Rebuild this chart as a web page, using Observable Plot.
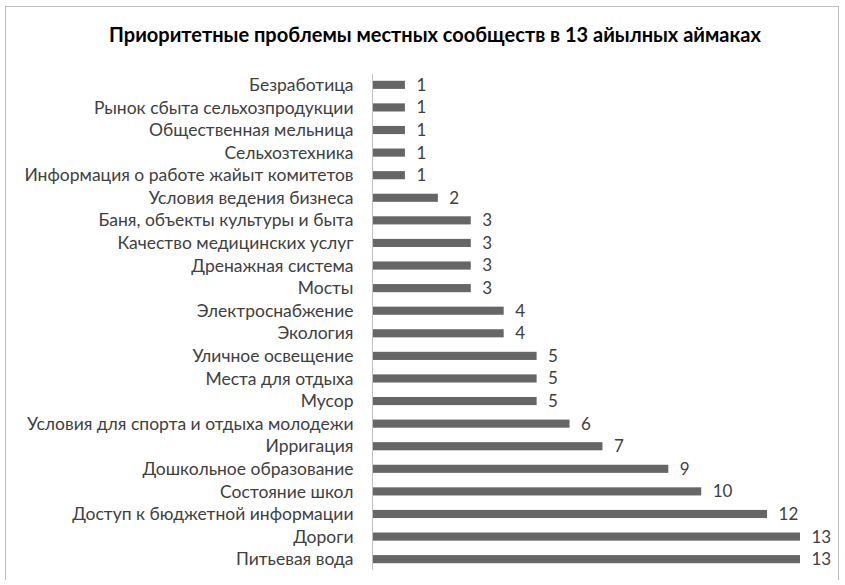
<!DOCTYPE html>
<html>
<head>
<meta charset="utf-8">
<script src="https://cdn.jsdelivr.net/npm/d3@7"></script>
<script src="https://cdn.jsdelivr.net/npm/@observablehq/plot@0.6"></script>
<style>
  html, body { margin: 0; padding: 0; background: #fff; }
  #frame {
    position: absolute; left: 5px; top: 6px; width: 834px; height: 574px;
    border: 1px solid #bdbdbd; box-sizing: border-box; background: #fff;
  }
  #title {
    position: absolute; left: 13px; top: 17px; width: 100%; text-align: center; line-height: 20px;
    font-family: Lato, "Open Sans", sans-serif; font-weight: bold; font-size: 20px; color: #000;
  }
  #chart { position: absolute; left: 0; top: 58px; }
</style>
</head>
<body>
<div id="frame">
  <div id="title">Приоритетные проблемы местных сообществ в 13 айылных аймаках</div>
  <div id="chart"></div>
</div>
<script>
const categories = [
  "Безработица",
  "Рынок сбыта сельхозпродукции",
  "Общественная мельница",
  "Сельхозтехника",
  "Информация о работе жайыт комитетов",
  "Условия ведения бизнеса",
  "Баня, объекты культуры и быта",
  "Качество медицинских услуг",
  "Дренажная система",
  "Мосты",
  "Электроснабжение",
  "Экология",
  "Уличное освещение",
  "Места для отдыха",
  "Мусор",
  "Условия для спорта и отдыха молодежи",
  "Ирригация",
  "Дошкольное образование",
  "Состояние школ",
  "Доступ к бюджетной информации",
  "Дороги",
  "Питьевая вода"
];
const values = [1, 1, 1, 1, 1, 2, 3, 3, 3, 3, 4, 4, 5, 5, 5, 6, 7, 9, 10, 12, 13, 13];

const data = categories.map((c, i) => ({category: c, value: values[i]}));

const chart = Plot.plot({
  width: 832,
  height: 520,
  marginLeft: 366,
  marginRight: 38,
  marginTop: 9,
  marginBottom: 15,
  style: {fontFamily: "Lato, 'Open Sans', sans-serif", fontSize: "17.5px", color: "#404040", background: "#fff"},
  x: {domain: [0, 13], axis: null},
  y: {domain: categories, paddingInner: 0.64, paddingOuter: 0.3, round: false, label: null, tickSize: 0, tickPadding: 19},
  marks: [
    Plot.barX(data, {y: "category", x: "value", fill: "#666666"}),
    Plot.ruleX([0], {stroke: "#c0c0c0", strokeWidth: 1}),
    Plot.text(data, {y: "category", x: "value", text: d => String(d.value), textAnchor: "start", dx: 11, fill: "#404040", fontSize: 17})
  ]
});
document.getElementById("chart").appendChild(chart);
</script>
</body>
</html>
